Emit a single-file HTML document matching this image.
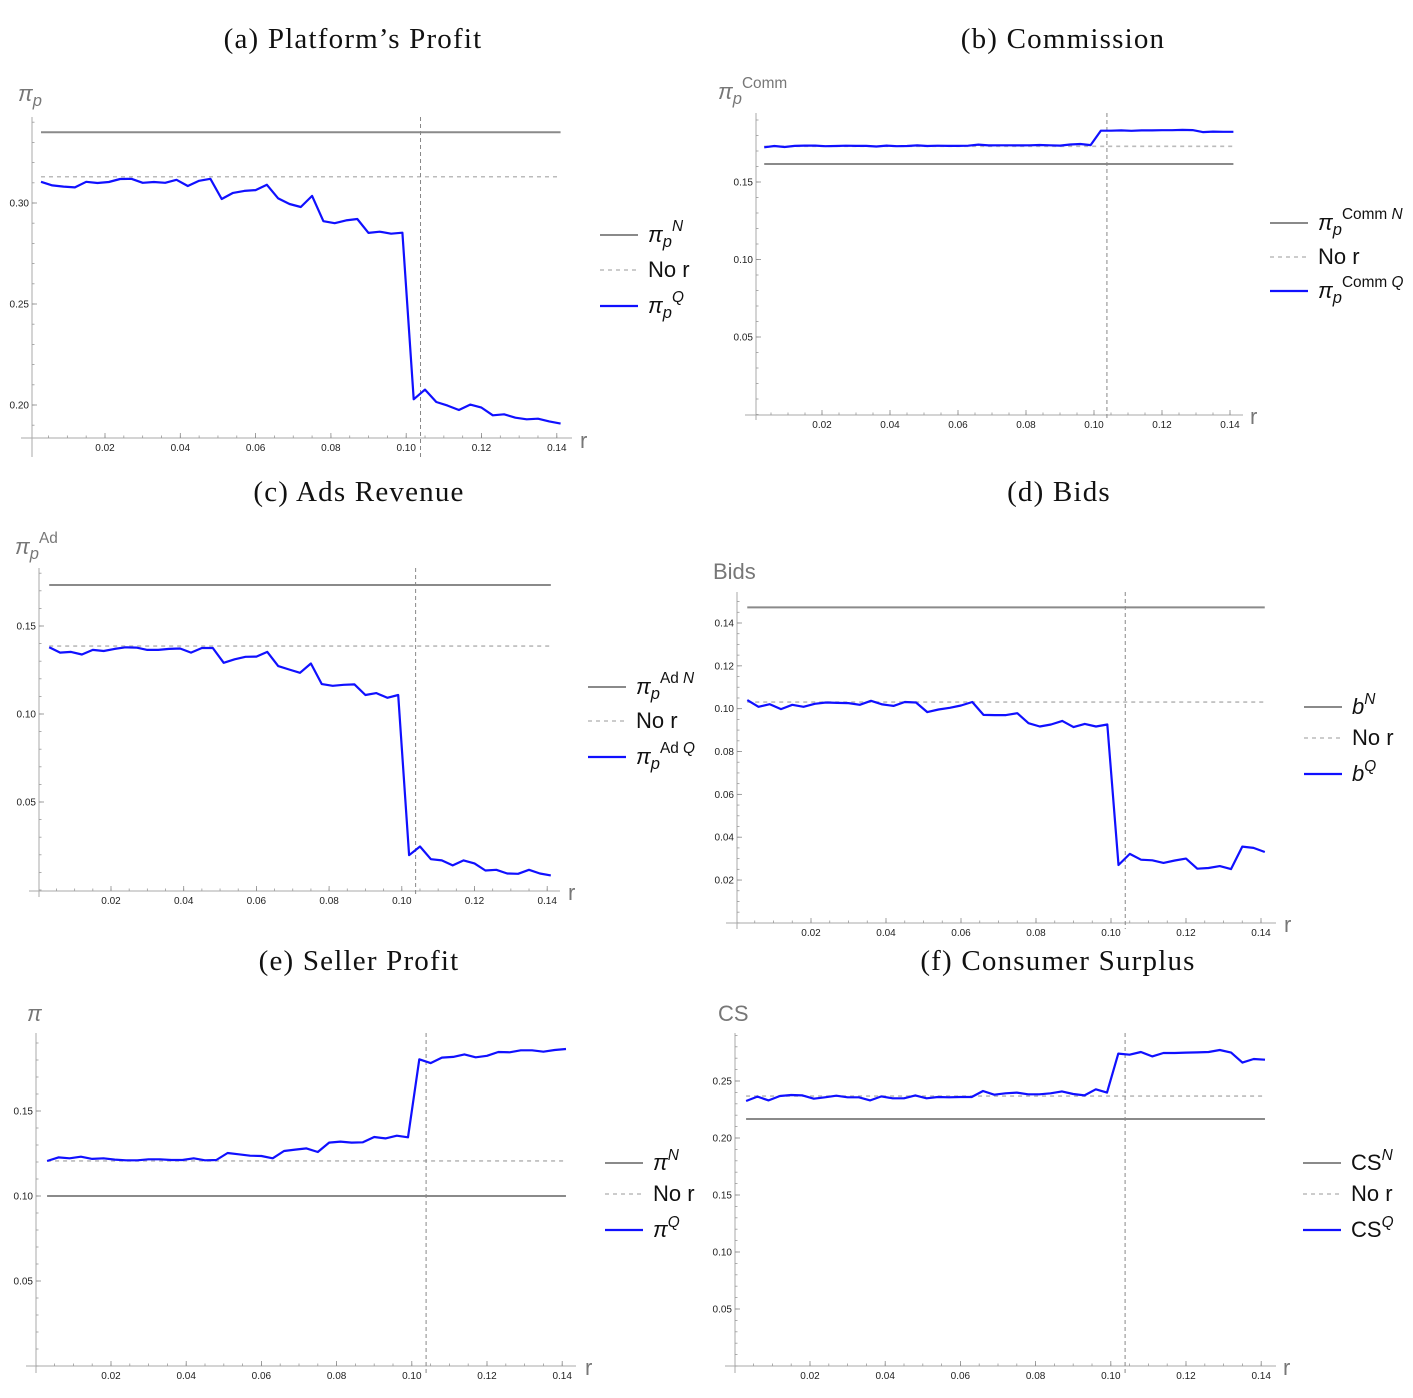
<!DOCTYPE html>
<html><head><meta charset="utf-8">
<style>
html,body{margin:0;padding:0;background:#fff;}
svg{display:block;}
.tk{font-family:"Liberation Sans",sans-serif;font-size:10px;fill:#222;}
.ttl{font-family:"Liberation Serif",serif;font-size:29px;fill:#111;letter-spacing:1.2px;}
.lg{font-family:"Liberation Sans",sans-serif;font-size:22px;fill:#111;}
.ax{font-family:"Liberation Sans",sans-serif;fill:#777;}
</style></head>
<body>
<svg id="fig" width="1413" height="1398" viewBox="0 0 1413 1398" xmlns="http://www.w3.org/2000/svg"></svg>
<script>
const rValues = [0.003,0.006,0.009,0.012,0.015,0.018,0.021,0.024,0.027,0.030,0.033,0.036,0.039,0.042,0.045,0.048,0.051,0.054,0.057,0.060,0.063,0.066,0.069,0.072,0.075,0.078,0.081,0.084,0.087,0.090,0.093,0.096,0.099,0.102,0.105,0.108,0.111,0.114,0.117,0.120,0.123,0.126,0.129,0.132,0.135,0.138,0.141];
const xTicks = [0.02,0.04,0.06,0.08,0.10,0.12,0.14];
const rThreshold = 0.1038;

const profitQ = [0.3105,0.3087,0.3081,0.3077,0.3105,0.3099,0.3104,0.3119,0.312,0.310,0.3104,0.310,0.3115,0.3084,0.311,0.312,0.302,0.305,0.306,0.3064,0.309,0.3023,0.2995,0.298,0.3035,0.291,0.290,0.2914,0.2921,0.2852,0.2858,0.2848,0.2853,0.2028,0.2076,0.2015,0.1997,0.1975,0.2002,0.1987,0.1949,0.1954,0.1937,0.1929,0.1932,0.1919,0.1908];
const profitN = 0.335, profitNoR = 0.313;
const profitTicks = [0.20,0.25,0.30];

const commQ = [0.1724,0.1732,0.1726,0.1733,0.1735,0.1735,0.1731,0.1732,0.1734,0.1733,0.1733,0.1729,0.1735,0.1731,0.1732,0.1736,0.1732,0.1734,0.1733,0.1733,0.1734,0.1741,0.1736,0.1737,0.1737,0.1736,0.1737,0.1739,0.1737,0.1735,0.1742,0.1745,0.1738,0.1831,0.1831,0.1833,0.1830,0.1833,0.1833,0.1834,0.1834,0.1836,0.1835,0.1822,0.1825,0.1824,0.1824];
const commN = 0.1616, commNoR = 0.173;
const commTicks = [0.05,0.10,0.15];

const adsQ = [0.1379,0.1349,0.1353,0.1338,0.1364,0.1358,0.137,0.1379,0.1377,0.1364,0.1364,0.137,0.1372,0.1349,0.1375,0.1375,0.1291,0.1311,0.1325,0.1326,0.1353,0.1272,0.1253,0.1234,0.1287,0.117,0.116,0.1166,0.1168,0.1108,0.1119,0.1092,0.1108,0.0198,0.0247,0.0175,0.0168,0.0140,0.0168,0.0151,0.0111,0.0115,0.0094,0.0092,0.0115,0.0094,0.0083];
const adsN = 0.1733, adsNoR = 0.1386;
const adsTicks = [0.05,0.10,0.15];

const bidsQ = [0.104,0.1009,0.1021,0.0998,0.1018,0.1009,0.1023,0.1029,0.1027,0.1026,0.1018,0.1037,0.102,0.1013,0.1031,0.1029,0.0984,0.0996,0.1004,0.1015,0.1031,0.0971,0.097,0.097,0.0979,0.0932,0.0917,0.0926,0.0943,0.0914,0.0929,0.0917,0.0926,0.027,0.0322,0.0295,0.0292,0.028,0.0291,0.030,0.0253,0.0256,0.0265,0.0251,0.0356,0.035,0.0331];
const bidsN = 0.1473, bidsNoR = 0.1031;
const bidsTicks = [0.02,0.04,0.06,0.08,0.10,0.12,0.14];

const sellerQ = [0.1206,0.1227,0.1222,0.1231,0.1218,0.1222,0.1214,0.121,0.121,0.1216,0.1216,0.1212,0.1212,0.1222,0.121,0.1212,0.1253,0.1245,0.1237,0.1235,0.1222,0.1265,0.1273,0.128,0.1259,0.1314,0.132,0.1314,0.1316,0.1347,0.1339,0.1355,0.1345,0.1804,0.1782,0.1814,0.1818,0.1833,0.1816,0.1825,0.1847,0.1845,0.1857,0.1857,0.1849,0.1859,0.1865];
const sellerN = 0.100, sellerNoR = 0.1206;
const sellerTicks = [0.05,0.10,0.15];

const csQ = [0.2325,0.2363,0.233,0.2368,0.2377,0.2374,0.2345,0.2357,0.2371,0.2357,0.2357,0.233,0.2365,0.2348,0.2348,0.2374,0.2348,0.236,0.2357,0.236,0.236,0.2412,0.238,0.2392,0.2398,0.2383,0.2383,0.2392,0.2409,0.2386,0.2374,0.2427,0.2398,0.274,0.2731,0.2754,0.2716,0.2746,0.2746,0.2749,0.2751,0.2754,0.2772,0.2749,0.2661,0.2693,0.2687];
const csN = 0.2167, csNoR = 0.2368;
const csTicks = [0.05,0.10,0.15,0.20,0.25];

const NS = "http://www.w3.org/2000/svg";
const svg = document.getElementById('fig');
function mk(tag, attrs, parent){
  const e = document.createElementNS(NS, tag);
  for (const k in attrs) e.setAttribute(k, attrs[k]);
  (parent||svg).appendChild(e);
  return e;
}
function fmt(v){ return v.toFixed(2); }

function panel(cfg){
  const g = mk('g', {});
  
  
  const X = r => cfg.r0 + r*cfg.kx;
  const Y = v => cfg.yRefPx - (v - cfg.yRef)*cfg.ky;
  const t = mk('text', {x:cfg.tx, y:cfg.ty, 'text-anchor':'middle', class:'ttl'}, g);
  t.textContent = cfg.title;
  
  
  const xa = mk('line', {x1:cfg.xLeft, x2:cfg.xRight, y1:cfg.xAxisY, y2:cfg.xAxisY, stroke:'#aaa', 'stroke-width':1}, g);
  
  
  const ya = mk('line', {x1:cfg.yAxisX, x2:cfg.yAxisX, y1:cfg.yTop, y2:cfg.yBottom, stroke:'#aaa', 'stroke-width':1}, g);
  
  
  for (let m = 0.005; m < 0.1425; m += 0.005){
    const px = X(m);
    mk('line', {x1:px, x2:px, y1:cfg.xAxisY, y2:cfg.xAxisY-2.5, stroke:'#999', 'stroke-width':0.8}, g);
  }
  xTicks.forEach(v => {
    const px = X(v);
    mk('line', {x1:px, x2:px, y1:cfg.xAxisY, y2:cfg.xAxisY-5, stroke:'#888', 'stroke-width':0.8}, g);
    const l = mk('text', {x:px, y:cfg.xAxisY+13, 'text-anchor':'middle', class:'tk'}, g);
    l.textContent = fmt(v);
    
    
  });
  const step = cfg.yTicks[1]-cfg.yTicks[0];
  const minor = step/ (step > 0.03 ? 5 : 4);
  const vLow = cfg.yRef + (cfg.yRefPx - cfg.yBottom)/cfg.ky;
  const vHigh = cfg.yRef + (cfg.yRefPx - cfg.yTop)/cfg.ky;
  for (let v = Math.ceil(vLow/minor)*minor; v <= vHigh; v += minor){
    const py = Y(v);
    if (py > cfg.xAxisY) continue;
    mk('line', {x1:cfg.yAxisX, x2:cfg.yAxisX+2.5, y1:py, y2:py, stroke:'#999', 'stroke-width':0.8}, g);
  }
  cfg.yTicks.forEach(v => {
    const py = Y(v);
    mk('line', {x1:cfg.yAxisX, x2:cfg.yAxisX+5, y1:py, y2:py, stroke:'#888', 'stroke-width':0.8}, g);
    const l = mk('text', {x:cfg.yAxisX-3, y:py+3.5, 'text-anchor':'end', class:'tk'}, g);
    l.textContent = fmt(v);
    
    
  });
  const rl = mk('text', {x:cfg.rx, y:cfg.ry, class:'ax', 'font-size':22}, g);
  rl.textContent = 'r';
  
  
  const yl = mk('text', {x:cfg.ylx, y:cfg.yly, class:'ax', 'font-size':22}, g);
  
  
  cfg.ylab(yl);
  const x1 = X(rValues[0]), x2 = X(rValues[rValues.length-1]);
  const nl = mk('line', {x1:x1, x2:x2, y1:Y(cfg.N), y2:Y(cfg.N), stroke:'#8a8a8a', 'stroke-width':2}, g);
  
  
  const dl = mk('line', {x1:x1, x2:x2, y1:Y(cfg.noR), y2:Y(cfg.noR), stroke:'#bbb', 'stroke-width':1.6, 'stroke-dasharray':'4,4'}, g);
  
  
  const vl = mk('line', {x1:X(rThreshold), x2:X(rThreshold), y1:cfg.yTop, y2:cfg.yBottom, stroke:'#888', 'stroke-width':1, 'stroke-dasharray':'4,3'}, g);
  
  
  const pts = cfg.Q.map((v,i) => X(rValues[i]).toFixed(1)+','+Y(v).toFixed(1)).join(' ');
  const pl = mk('polyline', {points:pts, fill:'none', stroke:'#1010ff', 'stroke-width':2.2, 'stroke-linejoin':'round'}, g);
  
  
  const L = cfg.leg;
  const styles = [
    {stroke:'#8a8a8a','stroke-width':2},
    {stroke:'#bbb','stroke-width':1.6,'stroke-dasharray':'4,4'},
    {stroke:'#1010ff','stroke-width':2.2}
  ];
  L.ys.forEach((yy,i) => {
    const sw = mk('line', Object.assign({x1:L.x, x2:L.x+38, y1:yy, y2:yy}, styles[i]), g);
    
    
    const tx = mk('text', {x:L.x+48, y:yy+7, class:'lg'}, g);
    
    
    L.labels[i](tx);
  });
}

function piP(el, sup){
  el.innerHTML = '<tspan font-style="italic">π</tspan><tspan font-style="italic" font-size="0.75em" dy="5">p</tspan>' + (sup ? '<tspan font-size="0.7em" dy="-16">'+sup+'</tspan>' : '');
}
const noR = el => { el.textContent = 'No r'; };

panel({name:'panel-a-platform-profit', title:'(a) Platform’s Profit', tx:353, ty:48,
  r0:29.7, kx:3765, yRef:0.30, yRefPx:203, ky:2020,
  xAxisY:438, yAxisX:32, yTop:117, yBottom:457, xLeft:21, xRight:572,
  yTicks:profitTicks, N:profitN, noR:profitNoR, Q:profitQ,
  rx:580, ry:448, ylx:18, yly:101, ylab: el => piP(el, ''),
  leg:{x:600, ys:[235,270,306], labels:[el=>piP(el,'<tspan font-style="italic">N</tspan>'), noR, el=>piP(el,'<tspan font-style="italic">Q</tspan>')]}});

panel({name:'panel-b-commission', title:'(b) Commission', tx:1063, ty:48,
  r0:754, kx:3400, yRef:0.15, yRefPx:182, ky:1550,
  xAxisY:415, yAxisX:756, yTop:113, yBottom:420, xLeft:745, xRight:1243,
  yTicks:commTicks, N:commN, noR:commNoR, Q:commQ,
  rx:1250, ry:424, ylx:718, yly:99, ylab: el => { el.innerHTML = '<tspan font-style="italic">π</tspan><tspan font-style="italic" font-size="0.75em" dy="5">p</tspan><tspan font-size="0.7em" dy="-16">Comm</tspan>'; },
  leg:{x:1270, ys:[223,257,291], labels:[el=>piP(el,'Comm <tspan font-style="italic">N</tspan>'), noR, el=>piP(el,'Comm <tspan font-style="italic">Q</tspan>')]}});

panel({name:'panel-c-ads-revenue', title:'(c) Ads Revenue', tx:359, ty:501,
  r0:38.3, kx:3635, yRef:0.15, yRefPx:626, ky:1760,
  xAxisY:891, yAxisX:39, yTop:568, yBottom:897, xLeft:29, xRight:560,
  yTicks:adsTicks, N:adsN, noR:adsNoR, Q:adsQ,
  rx:568, ry:900, ylx:15, yly:554, ylab: el => { el.innerHTML = '<tspan font-style="italic">π</tspan><tspan font-style="italic" font-size="0.75em" dy="5">p</tspan><tspan font-size="0.7em" dy="-16">Ad</tspan>'; },
  leg:{x:588, ys:[687,721,757], labels:[el=>piP(el,'Ad <tspan font-style="italic">N</tspan>'), noR, el=>piP(el,'Ad <tspan font-style="italic">Q</tspan>')]}});

panel({name:'panel-d-bids', title:'(d) Bids', tx:1059, ty:501,
  r0:736, kx:3750, yRef:0.14, yRefPx:623, ky:2142,
  xAxisY:923, yAxisX:737, yTop:592, yBottom:929, xLeft:726, xRight:1276,
  yTicks:bidsTicks, N:bidsN, noR:bidsNoR, Q:bidsQ,
  rx:1284, ry:932, ylx:713, yly:579, ylab: el => { el.textContent = 'Bids'; },
  leg:{x:1304, ys:[707,738,774], labels:[el=>{el.innerHTML='<tspan font-style="italic">b</tspan><tspan font-style="italic" font-size="0.7em" dy="-10">N</tspan>';}, noR, el=>{el.innerHTML='<tspan font-style="italic">b</tspan><tspan font-style="italic" font-size="0.7em" dy="-10">Q</tspan>';}]}});

panel({name:'panel-e-seller-profit', title:'(e) Seller Profit', tx:359, ty:970,
  r0:35.8, kx:3760, yRef:0.10, yRefPx:1196, ky:1700,
  xAxisY:1366, yAxisX:36, yTop:1033, yBottom:1373, xLeft:26, xRight:576,
  yTicks:sellerTicks, N:sellerN, noR:sellerNoR, Q:sellerQ,
  rx:585, ry:1375, ylx:27, yly:1021, ylab: el => { el.innerHTML = '<tspan font-style="italic">π</tspan>'; },
  leg:{x:605, ys:[1163,1194,1230], labels:[el=>{el.innerHTML='<tspan font-style="italic">π</tspan><tspan font-style="italic" font-size="0.7em" dy="-10">N</tspan>';}, noR, el=>{el.innerHTML='<tspan font-style="italic">π</tspan><tspan font-style="italic" font-size="0.7em" dy="-10">Q</tspan>';}]}});

panel({name:'panel-f-consumer-surplus', title:'(f) Consumer Surplus', tx:1058, ty:970,
  r0:734.8, kx:3760, yRef:0.20, yRefPx:1138, ky:1140,
  xAxisY:1366, yAxisX:735, yTop:1033, yBottom:1373, xLeft:725, xRight:1276,
  yTicks:csTicks, N:csN, noR:csNoR, Q:csQ,
  rx:1283, ry:1375, ylx:718, yly:1021, ylab: el => { el.textContent = 'CS'; },
  leg:{x:1303, ys:[1163,1194,1230], labels:[el=>{el.innerHTML='CS<tspan font-style="italic" font-size="0.7em" dy="-10">N</tspan>';}, noR, el=>{el.innerHTML='CS<tspan font-style="italic" font-size="0.7em" dy="-10">Q</tspan>';}]}});
</script>
</body></html>
